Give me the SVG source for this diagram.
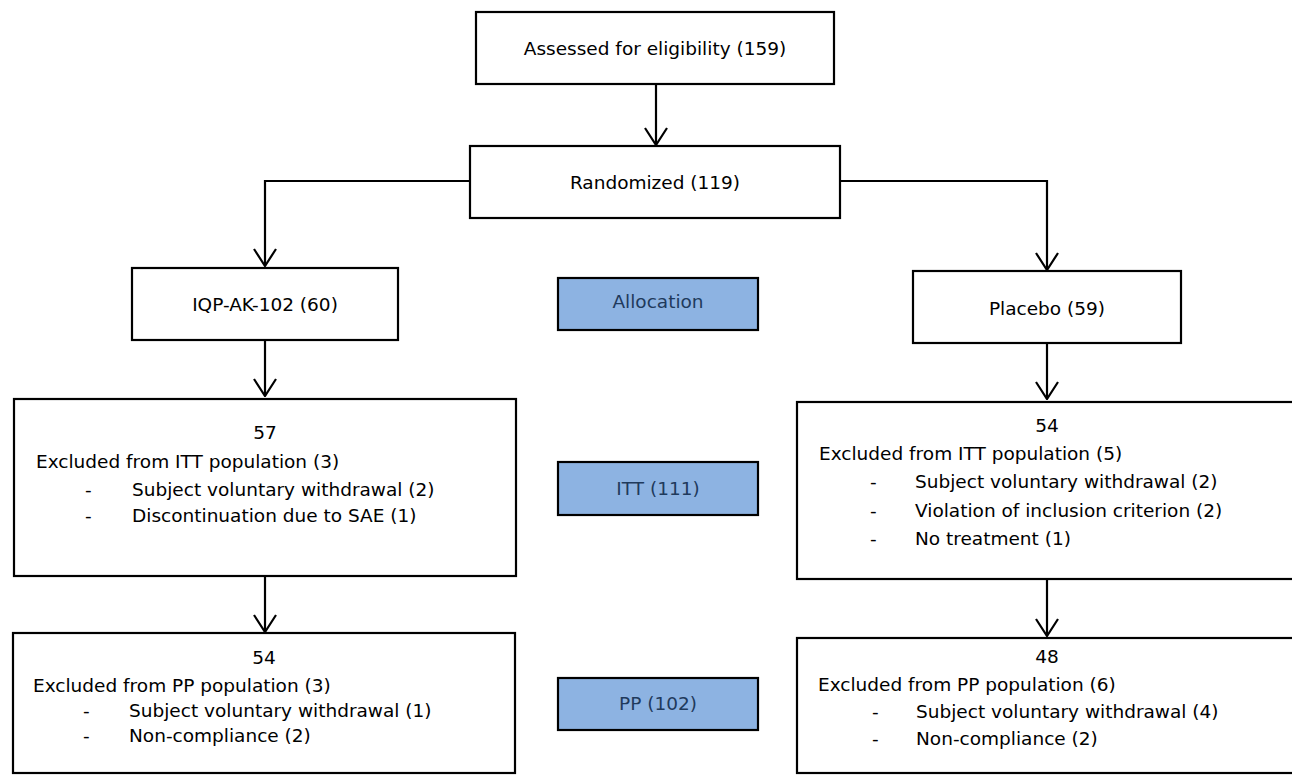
<svg xmlns="http://www.w3.org/2000/svg" width="1292" height="776" viewBox="0 0 1292 776">
<style>
  .box { fill: #ffffff; stroke: #000000; stroke-width: 2.2; }
  .lbl { fill: #8db3e2; stroke: #000000; stroke-width: 2.2; }
  text { font-family: "DejaVu Sans", "Liberation Sans", sans-serif; font-size: 18.5px; fill: #000000; }
  .c { text-anchor: middle; }
  .lt { fill: #1f3a5c; }
  .conn { fill: none; stroke: #000000; stroke-width: 2.2; }
</style>
<defs>
  <marker id="arr" viewBox="0 0 20 24" refX="19" refY="12" markerWidth="20" markerHeight="24" markerUnits="userSpaceOnUse" orient="auto">
    <path d="M2,1 L19,12 L2,23" fill="none" stroke="#000000" stroke-width="2.2"/>
  </marker>
</defs>
<rect width="1292" height="776" fill="#ffffff"/>

<g id="connectors">
  <path class="conn" d="M656,84 L656,145" marker-end="url(#arr)"/>
  <path class="conn" d="M470,181 L265,181 L265,266" marker-end="url(#arr)"/>
  <path class="conn" d="M840,181 L1047,181 L1047,270" marker-end="url(#arr)"/>
  <path class="conn" d="M265,340 L265,396" marker-end="url(#arr)"/>
  <path class="conn" d="M1047,343 L1047,399" marker-end="url(#arr)"/>
  <path class="conn" d="M265,576 L265,632" marker-end="url(#arr)"/>
  <path class="conn" d="M1047,579 L1047,636" marker-end="url(#arr)"/>
</g>

<g id="assessed">
  <rect class="box" x="476" y="12" width="358" height="72"/>
  <text class="c" x="655" y="55">Assessed for eligibility (159)</text>
</g>

<g id="randomized">
  <rect class="box" x="470" y="146" width="370" height="72"/>
  <text class="c" x="655" y="189">Randomized (119)</text>
</g>

<g id="iqp">
  <rect class="box" x="132" y="268" width="266" height="72"/>
  <text class="c" x="265" y="311">IQP-AK-102 (60)</text>
</g>

<g id="placebo">
  <rect class="box" x="913" y="271" width="268" height="72"/>
  <text class="c" x="1047" y="315">Placebo (59)</text>
</g>

<g id="allocation">
  <rect class="lbl" x="558" y="278" width="200" height="52"/>
  <text class="c lt" x="658" y="308">Allocation</text>
</g>

<g id="itt-label">
  <rect class="lbl" x="558" y="462" width="200" height="53"/>
  <text class="c lt" x="658" y="495">ITT (111)</text>
</g>

<g id="pp-label">
  <rect class="lbl" x="558" y="678" width="200" height="52"/>
  <text class="c lt" x="658" y="710">PP (102)</text>
</g>

<g id="itt-left">
  <rect class="box" x="14" y="399" width="502" height="177"/>
  <text class="c" x="265" y="439">57</text>
  <text x="36" y="468">Excluded from ITT population (3)</text>
  <text x="85" y="496">-</text>
  <text x="132" y="496">Subject voluntary withdrawal (2)</text>
  <text x="85" y="522">-</text>
  <text x="132" y="522">Discontinuation due to SAE (1)</text>
</g>

<g id="itt-right">
  <rect class="box" x="797" y="402" width="500" height="177"/>
  <text class="c" x="1047" y="432">54</text>
  <text x="819" y="460">Excluded from ITT population (5)</text>
  <text x="870" y="488">-</text>
  <text x="915" y="488">Subject voluntary withdrawal (2)</text>
  <text x="870" y="517">-</text>
  <text x="915" y="517">Violation of inclusion criterion (2)</text>
  <text x="870" y="545">-</text>
  <text x="915" y="545">No treatment (1)</text>
</g>

<g id="pp-left">
  <rect class="box" x="13" y="633" width="502" height="140"/>
  <text class="c" x="264" y="664">54</text>
  <text x="33" y="692">Excluded from PP population (3)</text>
  <text x="83" y="717">-</text>
  <text x="129" y="717">Subject voluntary withdrawal (1)</text>
  <text x="83" y="742">-</text>
  <text x="129" y="742">Non-compliance (2)</text>
</g>

<g id="pp-right">
  <rect class="box" x="797" y="638" width="500" height="135"/>
  <text class="c" x="1047" y="663">48</text>
  <text x="818" y="691">Excluded from PP population (6)</text>
  <text x="872" y="718">-</text>
  <text x="916" y="718">Subject voluntary withdrawal (4)</text>
  <text x="872" y="745">-</text>
  <text x="916" y="745">Non-compliance (2)</text>
</g>
</svg>
